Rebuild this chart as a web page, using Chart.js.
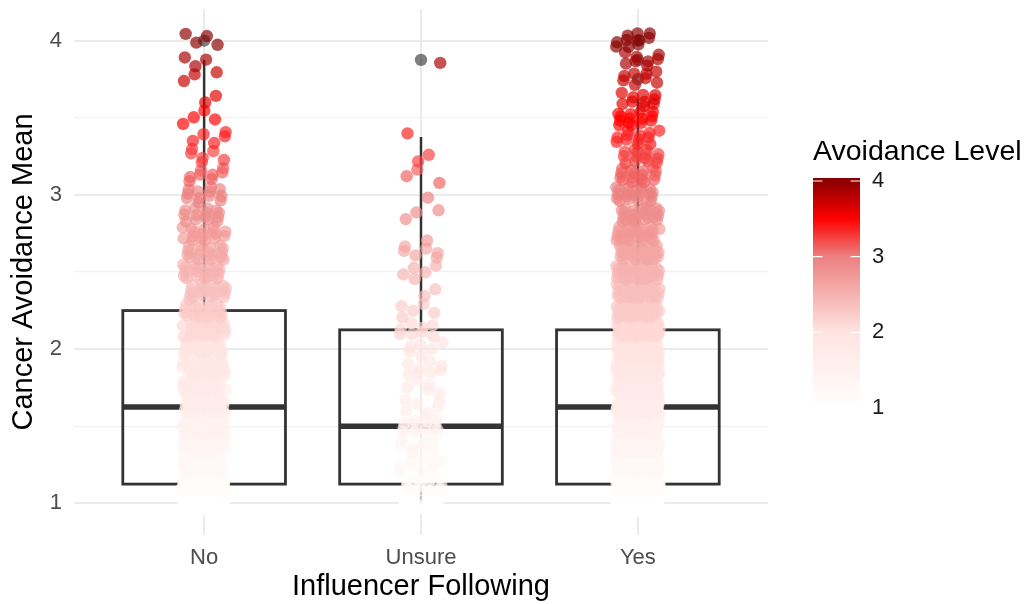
<!DOCTYPE html>
<html>
<head>
<meta charset="utf-8">
<script src="https://cdn.jsdelivr.net/npm/chart.js@4"></script>
<style>
html, body { margin: 0; padding: 0; background: #ffffff; }
#wrap { width: 1026px; height: 604px; position: relative; }
</style>
</head>
<body>
<div id="wrap"><canvas id="chart" width="1026" height="604"></canvas></div>
<script>
// categories on the x axis
const categories = ["No", "Unsure", "Yes"];

// possible values of the avoidance mean (steps of 1/8)
const levels = [1, 1.125, 1.25, 1.375, 1.5, 1.625, 1.75, 1.875, 2, 2.125, 2.25, 2.375, 2.5,
    2.625, 2.75, 2.875, 3, 3.125, 3.25, 3.375, 3.5, 3.625, 3.75, 3.875, 4];

// how many respondents sit at each level
const countsNo = [80, 75, 40, 38, 35, 34, 32, 30, 28, 26, 24, 22, 20,
    18, 16, 14, 12, 8, 6, 5, 4, 2, 3, 3, 4];
const countsUnsure = [18, 14, 9, 8, 15, 6, 5, 8, 6, 8, 5, 2, 5,
    6, 1, 3, 1, 3, 2, 1, 0, 0, 0, 1, 0];
const countsYes = [200, 160, 90, 85, 78, 75, 80, 76, 72, 66, 45, 40, 36,
    32, 28, 25, 20, 16, 14, 12, 14, 10, 8, 8, 10];

// boxplot statistics
const boxQ1 = [1.125, 1.125, 1.125];
const boxMedian = [1.625, 1.5, 1.625];
const boxQ3 = [2.25, 2.125, 2.125];
const whiskerLow = [1, 1, 1];
const whiskerHigh = [3.875, 3.375, 3.625];
const outliers = [[4], [3.875], [3.75, 3.875, 4]];

const yTicks = [1, 2, 3, 4];
const legendTicks = [1, 2, 3, 4];

// colour scale for the avoidance level
const colourStops = [
    [1, [255, 255, 255]],
    [2, [255, 228, 225]],
    [3, [236, 128, 128]],
    [3.5, [255, 0, 0]],
    [4, [139, 0, 0]]
];

function avoidanceColour(v, alpha) {
    let c = colourStops[colourStops.length - 1][1];
    for (let i = 0; i < colourStops.length - 1; i++) {
        const a = colourStops[i], b = colourStops[i + 1];
        if (v <= b[0]) {
            const t = Math.max(0, (v - a[0]) / (b[0] - a[0]));
            c = a[1].map((ch, j) => Math.round(ch + (b[1][j] - ch) * t));
            break;
        }
    }
    return "rgba(" + c[0] + "," + c[1] + "," + c[2] + "," + alpha + ")";
}

const jitterWidth = 0.1;
const jitterHeight = 0.05;
const boxWidth = 0.75;
const fontFamily = "'Liberation Sans', Arial, sans-serif";

// spread the points of each level a little (fixed low-discrepancy pattern, like geom_jitter)
let k = 0;
function jitterPoints(counts, groupIndex) {
    const pts = [], colours = [];
    levels.forEach((lv, li) => {
        for (let j = 0; j < counts[li]; j++) {
            k++;
            const u = (k * 0.7548776662466927) % 1;
            const w = (k * 0.5698402909980532) % 1;
            pts.push({ x: groupIndex + 1 + (u - 0.5) * 2 * jitterWidth, y: lv + (w - 0.5) * 2 * jitterHeight });
            colours.push(avoidanceColour(lv, 0.68));
        }
    });
    return { pts, colours };
}

const groupCounts = [countsNo, countsUnsure, countsYes];
const pointDatasets = groupCounts.map((counts, gi) => {
    const j = jitterPoints(counts, gi);
    return {
        label: categories[gi],
        data: j.pts,
        backgroundColor: j.colours,
        borderWidth: 0,
        pointRadius: 6.2,
        pointHoverRadius: 6.2,
        order: 1
    };
});

const outlierData = [];
outliers.forEach((list, gi) => list.forEach(v => outlierData.push({ x: gi + 1, y: v })));

const boxPlugin = {
    id: "boxPlugin",
    beforeDatasetsDraw(chart) {
        const { ctx, scales: { x, y } } = chart;
        ctx.save();
        ctx.strokeStyle = "#333333";
        categories.forEach((c, i) => {
            const cx = x.getPixelForValue(i + 1);
            const left = x.getPixelForValue(i + 1 - boxWidth / 2);
            const right = x.getPixelForValue(i + 1 + boxWidth / 2);
            const q1 = y.getPixelForValue(boxQ1[i]);
            const q3 = y.getPixelForValue(boxQ3[i]);
            const med = y.getPixelForValue(boxMedian[i]);

            ctx.lineWidth = 2.5;
            ctx.beginPath();
            ctx.moveTo(cx, y.getPixelForValue(whiskerHigh[i]));
            ctx.lineTo(cx, q3);
            ctx.moveTo(cx, q1);
            ctx.lineTo(cx, y.getPixelForValue(whiskerLow[i]));
            ctx.stroke();

            ctx.lineWidth = 2.8;
            ctx.strokeRect(left, q3, right - left, q1 - q3);

            ctx.lineWidth = 5.5;
            ctx.beginPath();
            ctx.moveTo(left, med);
            ctx.lineTo(right, med);
            ctx.stroke();
        });
        ctx.restore();
    }
};

const legendPlugin = {
    id: "legendPlugin",
    afterDraw(chart) {
        const { ctx, chartArea } = chart;
        const x0 = chartArea.right + 45;
        const barW = 47;
        const top = chartArea.top + 172;
        const bottom = chartArea.top + 399;
        const vToY = v => bottom - (v - 1) / 3 * (bottom - top);

        ctx.save();
        ctx.fillStyle = "#000000";
        ctx.font = "28.5px " + fontFamily;
        ctx.textBaseline = "middle";
        ctx.textAlign = "left";
        ctx.fillText("Avoidance Level", x0, chartArea.top + 143);

        const grad = ctx.createLinearGradient(0, bottom, 0, top);
        colourStops.forEach(s => grad.addColorStop((s[0] - 1) / 3, avoidanceColour(s[0], 1)));
        ctx.fillStyle = grad;
        ctx.fillRect(x0, top - 3, barW, bottom - top + 3);

        ctx.strokeStyle = "#ffffff";
        ctx.lineWidth = 1.2;
        legendTicks.forEach(v => {
            const yy = vToY(v);
            ctx.beginPath();
            ctx.moveTo(x0, yy);
            ctx.lineTo(x0 + barW / 5, yy);
            ctx.moveTo(x0 + barW, yy);
            ctx.lineTo(x0 + barW - barW / 5, yy);
            ctx.stroke();
        });

        ctx.fillStyle = "#1a1a1a";
        ctx.font = "22px " + fontFamily;
        legendTicks.forEach(v => {
            ctx.fillText(String(v), x0 + barW + 12, vToY(v));
        });
        ctx.restore();
    }
};

const ctx = document.getElementById("chart").getContext("2d");
const chart = new Chart(ctx, {
    type: "scatter",
    data: {
        datasets: pointDatasets.concat([{
            label: "outliers",
            data: outlierData,
            backgroundColor: "rgba(0,0,0,0.5)",
            borderWidth: 0,
            pointRadius: 6.2,
            pointHoverRadius: 6.2,
            order: 2
        }])
    },
    options: {
        responsive: false,
        animation: false,
        layout: {
            padding: { top: 9, right: 258, bottom: 0, left: 0 }
        },
        plugins: {
            legend: { display: false },
            tooltip: { enabled: false }
        },
        scales: {
            x: {
                type: "linear",
                min: 0.4,
                max: 3.6,
                afterBuildTicks: scale => {
                    scale.ticks = categories.map((c, i) => ({ value: i + 1 }));
                },
                afterFit: scale => {
                    scale.height = 69;
                    scale.paddingLeft = 0;
                    scale.paddingRight = 0;
                },
                ticks: {
                    color: "#4d4d4d",
                    padding: 10,
                    font: { family: fontFamily, size: 22 },
                    callback: v => categories[v - 1]
                },
                grid: { color: "#ebebeb", lineWidth: 2, drawTicks: false },
                border: { display: false },
                title: {
                    display: true,
                    text: "Influencer Following",
                    color: "#000000",
                    font: { family: fontFamily, size: 29 },
                    padding: { top: -2, bottom: 0 }
                }
            },
            y: {
                type: "linear",
                min: 0.795,
                max: 4.205,
                afterBuildTicks: scale => {
                    const t = [];
                    for (let i = 0; i < yTicks.length; i++) {
                        t.push({ value: yTicks[i] });
                        if (i < yTicks.length - 1) t.push({ value: (yTicks[i] + yTicks[i + 1]) / 2 });
                    }
                    scale.ticks = t;
                },
                afterFit: scale => {
                    scale.width = 74;
                    scale.paddingTop = 0;
                    scale.paddingBottom = 0;
                },
                ticks: {
                    color: "#4d4d4d",
                    padding: 12,
                    font: { family: fontFamily, size: 22 },
                    callback: v => yTicks.includes(v) ? String(v) : ""
                },
                grid: {
                    color: c => yTicks.includes(c.tick.value) ? "#ebebeb" : "#f1f1f1",
                    lineWidth: c => yTicks.includes(c.tick.value) ? 2 : 1.2,
                    drawTicks: false
                },
                border: { display: false },
                title: {
                    display: true,
                    text: "Cancer Avoidance Mean",
                    color: "#000000",
                    font: { family: fontFamily, size: 29 },
                    padding: { top: 7, bottom: 0 }
                }
            }
        }
    },
    plugins: [boxPlugin, legendPlugin]
});
</script>
</body>
</html>
